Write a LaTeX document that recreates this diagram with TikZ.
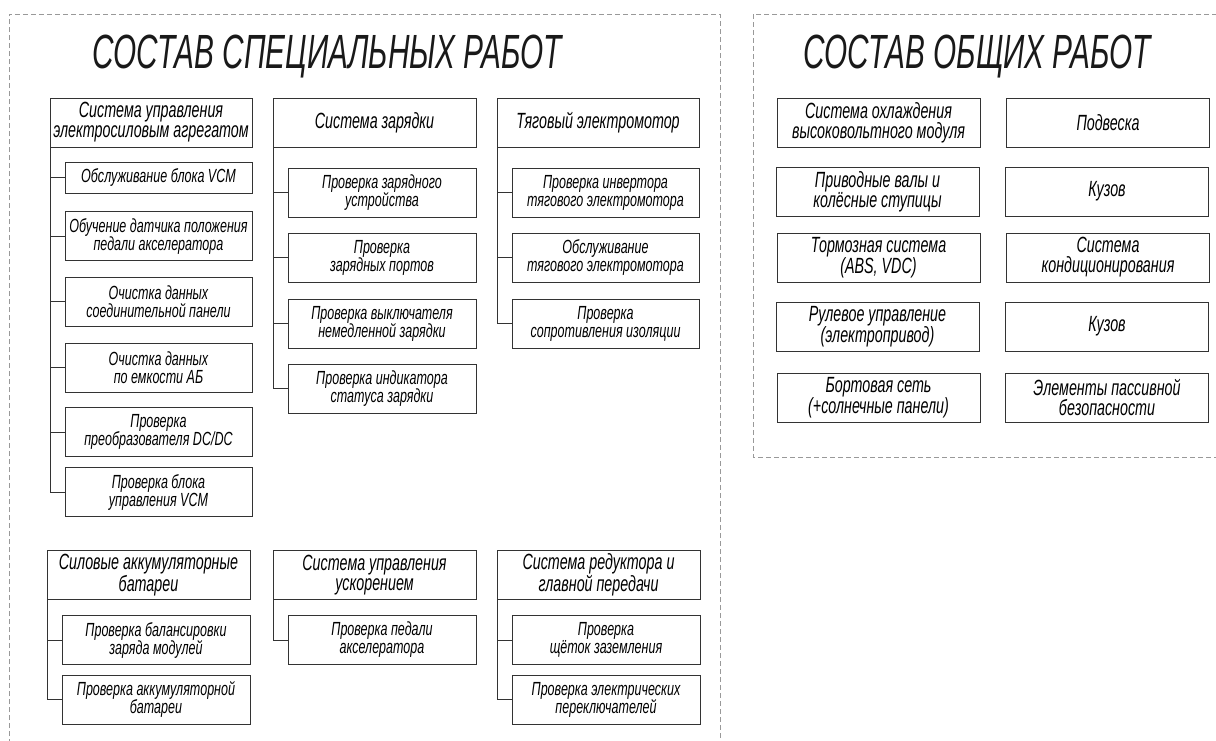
\documentclass[tikz,border=0pt]{standalone}
\usepackage{fontspec}
\newfontfamily\gost[FakeStretch=0.65]{Liberation Sans}
\newfontfamily\gostc[FakeStretch=0.66]{Liberation Sans}
\newfontfamily\gosttitle[FakeStretch=0.62]{Liberation Sans}
\tikzset{
  box/.style={draw=black!80, line width=0.9pt, inner sep=0pt, outer sep=0pt, align=center, text=black},
  hdr/.style={box, font=\gost\itshape\fontsize{22}{20}\selectfont, minimum height=49},
  sub/.style={box, font=\gostc\itshape\fontsize{19}{18}\selectfont, minimum height=49},
  gen/.style={hdr, minimum width=203},
  link/.style={draw=black!80, line width=0.9pt},
  frame/.style={draw=black!40, line width=0.8pt, dash pattern=on 5pt off 3pt},
  ttl/.style={font=\gosttitle\itshape\fontsize{48}{48}\selectfont, anchor=base, inner sep=0pt, text=black!90}
}
\begin{document}
\begin{tikzpicture}[x=1pt,y=-1pt]
\useasboundingbox (0,0) rectangle (1216,740);
\fill[white] (0,0) rectangle (1216,740);
% frames
\draw[frame] (9,760) -- (9,14) -- (720,14) -- (720,760);
\draw[frame] (753,14) rectangle (1230,457);
% titles
\node[ttl] (t1) at (327,68) {СОСТАВ СПЕЦИАЛЬНЫХ РАБОТ};
\node[ttl] (t2) at (977,68) {СОСТАВ ОБЩИХ РАБОТ};

% column 1 top
\node[hdr, minimum width=202] (a) at (151,122.5) {Система управления\\электросиловым агрегатом};
\node[sub, minimum width=187, minimum height=31] (a1) at (158.5,177.5) {Обслуживание блока VCM};
\node[sub, minimum width=187] (a2) at (158.5,236) {Обучение датчика положения\\педали акселератора};
\node[sub, minimum width=187] (a3) at (158.5,301.5) {Очистка данных\\соединительной панели};
\node[sub, minimum width=187] (a4) at (158.5,367.5) {Очистка данных\\по емкости АБ};
\node[sub, minimum width=187] (a5) at (158.5,432) {Проверка\\преобразователя DC/DC};
\node[sub, minimum width=187] (a6) at (158.5,492) {Проверка блока\\управления VCM};
\foreach \c in {a1,a2,a3,a4,a5,a6} \draw[link] (a.south west) |- (\c.west);

% column 2 top
\node[hdr, minimum width=203] (b) at (374.5,122.5) {Система зарядки};
\node[sub, minimum width=188] (b1) at (382,192.5) {Проверка зарядного\\устройства};
\node[sub, minimum width=188] (b2) at (382,257.5) {Проверка\\зарядных портов};
\node[sub, minimum width=188] (b3) at (382,323.5) {Проверка выключателя\\немедленной зарядки};
\node[sub, minimum width=188] (b4) at (382,388.5) {Проверка индикатора\\статуса зарядки};
\foreach \c in {b1,b2,b3,b4} \draw[link] (b.south west) |- (\c.west);

% column 3 top
\node[hdr, minimum width=202] (c) at (598,122.5) {Тяговый электромотор};
\node[sub, minimum width=187] (c1) at (605.5,192.5) {Проверка инвертора\\тягового электромотора};
\node[sub, minimum width=187] (c2) at (605.5,257.5) {Обслуживание\\тягового электромотора};
\node[sub, minimum width=187] (c3) at (605.5,323.5) {Проверка\\сопротивления изоляции};
\foreach \c in {c1,c2,c3} \draw[link] (c.south west) |- (\c.west);

% bottom row
\node[hdr, minimum width=203] (d) at (148.5,575) {Силовые аккумуляторные\\батареи};
\node[sub, minimum width=188] (d1) at (156,640) {Проверка балансировки\\заряда модулей};
\node[sub, minimum width=188] (d2) at (156,699.5) {Проверка аккумуляторной\\батареи};
\foreach \c in {d1,d2} \draw[link] (d.south west) |- (\c.west);

\node[hdr, minimum width=203] (e) at (374.5,575) {Система управления\\ускорением};
\node[sub, minimum width=188] (e1) at (382,640) {Проверка педали\\акселератора};
\draw[link] (e.south west) |- (e1.west);

\node[hdr, minimum width=203] (f) at (598.5,575) {Система редуктора и\\главной передачи};
\node[sub, minimum width=188] (f1) at (606,640) {Проверка\\щёток заземления};
\node[sub, minimum width=188] (f2) at (606,699.5) {Проверка электрических\\переключателей};
\foreach \c in {f1,f2} \draw[link] (f.south west) |- (\c.west);

% general works
\node[gen] (g1) at (878.5,122.5) {Система охлаждения\\высоковольтного модуля};
\node[gen] (g2) at (877.5,191.5) {Приводные валы и\\колёсные ступицы};
\node[gen] (g3) at (878.5,257.5) {Тормозная система\\(ABS, VDC)};
\node[gen] (g4) at (877.5,326.5) {Рулевое управление\\(электропривод)};
\node[gen] (g5) at (878.5,397.5) {Бортовая сеть\\(+солнечные панели)};
\node[gen] (h1) at (1108,122.5) {Подвеска};
\node[gen] (h2) at (1107,191.5) {Кузов};
\node[gen] (h3) at (1108,257.5) {Система\\кондиционирования};
\node[gen] (h4) at (1107,326.5) {Кузов};
\node[gen] (h5) at (1107,397.5) {Элементы пассивной\\безопасности};
\end{tikzpicture}
\end{document}
